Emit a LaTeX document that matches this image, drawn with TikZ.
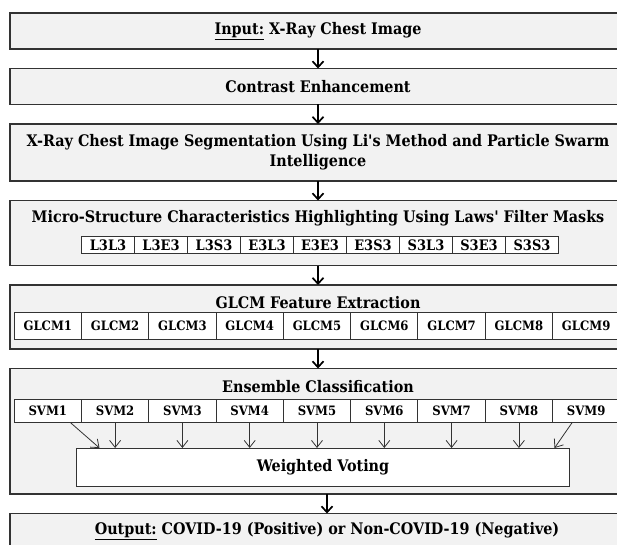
\documentclass[tikz,border=0pt]{standalone}
\usepackage{fontspec}
\setmainfont{DejaVu Serif Condensed}
\usepackage{tikz}
\usetikzlibrary{arrows.meta,positioning}

\definecolor{panelgray}{HTML}{F2F2F2}
\definecolor{edgegray}{HTML}{333333}

\begin{document}
\begin{tikzpicture}[
  x=1bp, y=1bp,
  node distance=19.5bp,
  font=\bfseries\fontsize{16}{20}\selectfont,
  panel/.style={rectangle, draw=edgegray, line width=1.2bp, fill=panelgray, align=center, minimum width=616bp, inner sep=0pt, outer sep=0pt},
  maskcell/.style={rectangle, draw=edgegray, line width=1bp, fill=white, minimum width=53bp, minimum height=17bp, inner sep=0pt, outer sep=0pt, font=\bfseries\fontsize{14.5}{16}\selectfont},
  featcell/.style={maskcell, minimum width=67.3bp, minimum height=27bp, font=\bfseries\fontsize{13}{16}\selectfont},
  svmcell/.style={featcell, minimum height=23bp},
  arrow/.style={-{Straight Barb[length=6bp,width=11bp]}, line width=1.7bp},
  vote arrow/.style={-{Straight Barb[length=7bp,width=11bp]}, line width=0.8bp, draw=edgegray}
]
\path[use as bounding box, clip] (0,0) rectangle (617,-545);

\node[panel, minimum height=36bp] (input) at (318,-31) {\underline{Input:} X-Ray Chest Image};
\node[panel, minimum height=36bp, below=of input] (contrast) {Contrast Enhancement};
\node[panel, minimum height=57bp, below=of contrast] (segment) {X-Ray Chest Image Segmentation Using Li\textquotesingle s Method and Particle Swarm\\Intelligence};

\node[panel, minimum height=65bp, below=of segment] (laws) {};
\node (lawstitle) at ([yshift=-18bp]laws.north) {Micro-Structure Characteristics Highlighting Using Laws\textquotesingle\ Filter Masks};
\foreach \m [count=\i] in {L3L3,L3E3,L3S3,E3L3,E3E3,E3S3,S3L3,S3E3,S3S3}
  \node[maskcell] (mask\i) at ([shift={({53*(\i-5)+2},-44.5)}]laws.north) {\m};

\node[panel, minimum height=64bp, below=of laws] (glcm) {};
\node (glcmtitle) at ([yshift=-18bp]glcm.north) {GLCM Feature Extraction};
\foreach \i in {1,...,9}
  \node[featcell] (feat\i) at ([shift={({67.3*(\i-5)-1},-40.5)}]glcm.north) {GLCM\i};

\node[panel, minimum height=125.5bp, below=of glcm] (ensemble) {};
\node (enstitle) at ([yshift=-18bp]ensemble.north) {Ensemble Classification};
\foreach \i in {1,...,9}
  \node[svmcell] (svm\i) at ([shift={({67.3*(\i-5)-1},-42.5)}]ensemble.north) {SVM\i};
\node[rectangle, draw=edgegray, line width=1bp, fill=white, minimum width=492bp, minimum height=38bp] (vote) at ([shift={(5,-99)}]ensemble.north) {Weighted Voting};

\node[panel, minimum height=36bp, minimum width=634bp, below=of ensemble, xshift=9bp] (output) {\underline{Output:} COVID-19 (Positive) or Non-COVID-19 (Negative)};

\draw[arrow] (input) -- (contrast);
\draw[arrow] (contrast) -- (segment);
\draw[arrow] (segment) -- (laws);
\draw[arrow] (laws) -- (glcm);
\draw[arrow] (glcm) -- (ensemble);
\draw[arrow] (ensemble.south -| output.north) -- (output.north);

% classifiers feed the voting box
\draw[vote arrow] ([xshift=22.5bp]svm1.south) -- ([xshift=23bp]vote.north west);
\foreach \i in {2,...,8}
  \draw[vote arrow] (svm\i.south) -- (svm\i.south |- vote.north);
\draw[vote arrow] ([xshift=-14bp]svm9.south) -- ([xshift=-15bp]vote.north east);

\end{tikzpicture}
\end{document}
